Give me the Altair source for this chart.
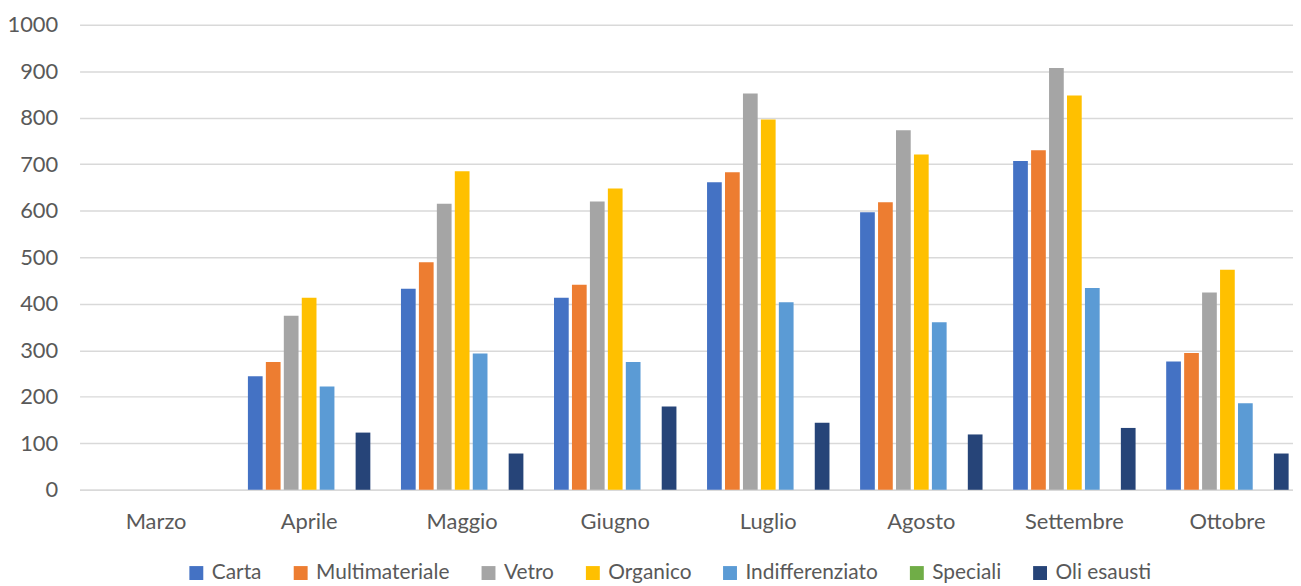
import altair as alt
import pandas as pd

months = ["Marzo", "Aprile", "Maggio", "Giugno", "Luglio", "Agosto", "Settembre", "Ottobre"]
series = ["Carta", "Multimateriale", "Vetro", "Organico", "Indifferenziato", "Speciali", "Oli esausti"]
colors = ["#4472C4", "#ED7D31", "#A5A5A5", "#FFC000", "#5B9BD5", "#70AD47", "#264478"]

carta = [0, 244, 432, 413, 661, 597, 707, 276]
multimateriale = [0, 275, 489, 441, 683, 618, 730, 294]
vetro = [0, 374, 615, 620, 852, 773, 907, 424]
organico = [0, 413, 685, 648, 796, 721, 848, 473]
indifferenziato = [0, 222, 293, 275, 403, 360, 434, 186]
speciali = [0, 0, 0, 0, 0, 0, 0, 0]
oli_esausti = [0, 123, 78, 179, 144, 119, 133, 78]

values = [carta, multimateriale, vetro, organico, indifferenziato, speciali, oli_esausti]

rows = []
for s, vals in zip(series, values):
    for m, v in zip(months, vals):
        rows.append({"Mese": m, "Serie": s, "Valore": v})
df = pd.DataFrame(rows)

FONT = "Lato"
TXT = "#595959"
GRID = "#d9d9d9"

chart = alt.Chart(df).mark_bar().encode(
    x=alt.X("Mese:N", sort=months,
            scale=alt.Scale(paddingInner=0.2, paddingOuter=0.1, range=[0, 1232]),
            axis=alt.Axis(title=None, labelAngle=0, ticks=False, domainColor=GRID,
                          domainWidth=1.5, labelFontSize=22, labelColor=TXT,
                          labelFont=FONT, labelPadding=22)),
    xOffset=alt.XOffset("Serie:N", sort=series,
                        scale=alt.Scale(paddingInner=0.18, paddingOuter=0)),
    y=alt.Y("Valore:Q", scale=alt.Scale(domain=[0, 1000]),
            axis=alt.Axis(title=None, values=list(range(0, 1001, 100)), format="d",
                          ticks=False, domain=False, gridColor=GRID, gridWidth=1.5,
                          labelFontSize=22, labelColor=TXT, labelFont=FONT,
                          labelPadding=22)),
    color=alt.Color("Serie:N", sort=series,
                    scale=alt.Scale(domain=series, range=colors),
                    legend=alt.Legend(title=None, orient="none", legendX=107, legendY=541,
                                      direction="horizontal", symbolType="square",
                                      symbolSize=196, symbolStrokeWidth=0,
                                      labelFontSize=21, labelColor=TXT, labelFont=FONT,
                                      labelOffset=5, columnPadding=28)),
).properties(
    width=1221,
    height=468,
    padding={"left": 72, "top": 15, "right": 0, "bottom": 95},
    autosize=alt.AutoSizeParams(type="none"),
).configure_view(stroke=None)

chart.save("out.html", embed_options={"renderer": "svg", "actions": False})
